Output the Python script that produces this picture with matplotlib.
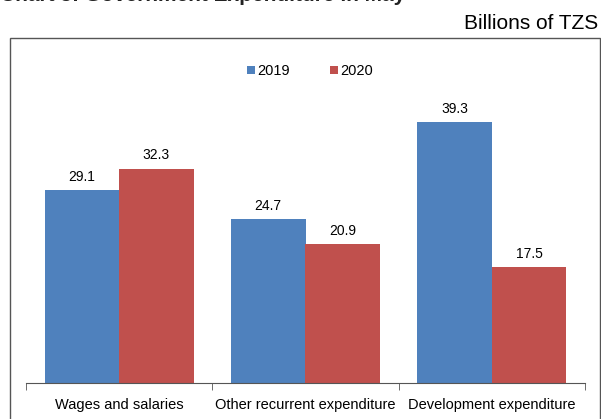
import matplotlib
matplotlib.use("Agg")
import matplotlib.pyplot as plt
from matplotlib.patches import Rectangle
import numpy as np

plt.rcParams['font.family'] = ['Liberation Sans', 'DejaVu Sans']

categories = ["Wages and salaries", "Other recurrent expenditure", "Development expenditure"]
series_names = ["2019", "2020"]
values_2019 = [29.1, 24.7, 39.3]
values_2020 = [32.3, 20.9, 17.5]
colors = ["#4F81BD", "#C0504D"]

fig = plt.figure(figsize=(6.01, 4.19), dpi=100)

# outer frame
fig.patches.append(Rectangle((10/601, -0.05), (600-10)/601, (419-38)/419 + 0.05,
                             transform=fig.transFigure, fill=False,
                             edgecolor="#555555", linewidth=1.0))

# cropped title (only its lower edge shows)
fig.text(0.0, 1.0 - 1/419, "Chart 5: Government Expenditure in May", transform=fig.transFigure,
         fontsize=15, fontweight='bold', ha='left', va='baseline', color='#222222')

fig.text(598/601, (419-29)/419, "Billions of TZS", fontsize=15, ha='right', va='baseline')

ax = fig.add_axes([26/601, (419-383)/419, (585-26)/601, (383-51)/419])
x = np.arange(len(categories))
w = 0.4
b1 = ax.bar(x - w/2, values_2019, w, color=colors[0], label=series_names[0])
b2 = ax.bar(x + w/2, values_2020, w, color=colors[1], label=series_names[1])

for bars, vals in ((b1, values_2019), (b2, values_2020)):
    for r, v in zip(bars, vals):
        ax.annotate(f"{v:.1f}", (r.get_x() + r.get_width()/2, v), xytext=(0, 4.5),
                    textcoords='offset points', ha='center', va='bottom', fontsize=10)

ax.set_xlim(-0.5, 2.5)
ax.set_ylim(0, 50)
for s in ("top", "right", "left"):
    ax.spines[s].set_visible(False)
ax.spines["bottom"].set_color("#555555")
ax.set_yticks([])
ax.set_xticks(x)
ax.set_xticklabels(categories, fontsize=10.5)
ax.tick_params(axis='x', which='major', length=0, pad=11)
ax.set_xticks([-0.5, 0.5, 1.5, 2.5], minor=True)
ax.tick_params(axis='x', which='minor', length=5, direction='out', color="#555555")

ax.legend(loc='upper center', bbox_to_anchor=(0.508, 1.0), ncol=2, frameon=False,
          fontsize=10.5, handlelength=0.55, handleheight=0.55, handletextpad=0.15,
          columnspacing=2.7)

fig.savefig("out.png", dpi=100)
